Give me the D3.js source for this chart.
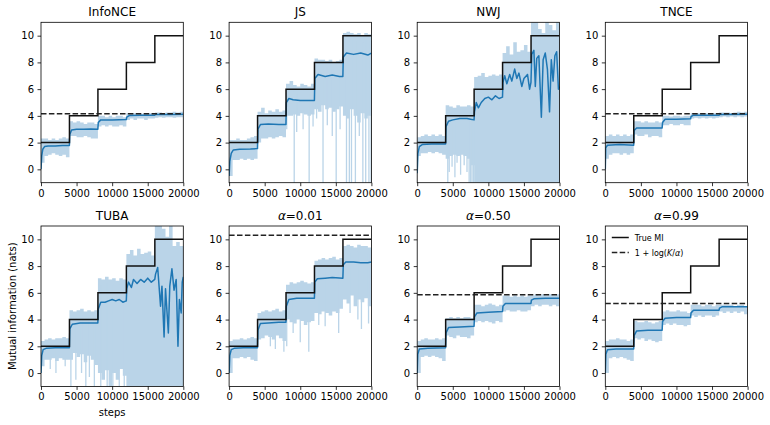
<!DOCTYPE html>
<html>
<head>
<meta charset="utf-8">
<script src="https://d3js.org/d3.v7.min.js"></script>
<style>
  body { margin: 0; background: #fff; }
  text { font-family: "DejaVu Sans", sans-serif; fill: #000; }
</style>
</head>
<body>
<svg id="chart" width="770" height="425"></svg>
<script>
// grid of the raw-estimate band (every 500 steps)
const steps = [0,500,1000,1500,2000,2500,3000,3500,4000,4500,5000,5500,6000,6500,7000,7500,
  8000,8500,9000,9500,10000,10500,11000,11500,12000,12500,13000,13500,14000,14500,15000,15500,
  16000,16500,17000,17500,18000,18500,19000,19500,20000];
const trueMiSteps = [0,4000,8000,12000,16000,20000];
const trueMi = [2,4,6,8,10,10];
const xTicks = [0,5000,10000,15000,20000];
const yTicks = [0,2,4,6,8,10];
const titles = ["InfoNCE","JS","NWJ","TNCE","TUBA","α=0.01","α=0.50","α=0.99"];
const bounds = [4.16,null,null,4.16,null,10.3,5.86,5.2];

const infonceHi = [2.3,2.3,2.2,2.3,2.2,2.3,2.4,2.3, 3.6,3.5,3.6,3.5,3.4,3.5,3.5,3.4, 4.0,4.0,3.9,4.0,3.9,4.0,4.0,3.9, 4.2,4.2,4.2,4.2,4.15,4.2,4.2,4.2, 4.25,4.25,4.2,4.25,4.25,4.3,4.25,4.3,4.3];
const infonceLo = [0.5,1.0,1.1,1.2,1.1,1.0,1.1,0.9, 2.5,2.5,2.4,2.4,2.5,2.4,2.3,2.3, 3.2,3.3,3.2,3.3,3.2,3.2,3.3,3.2, 3.7,3.8,3.7,3.8,3.8,3.7,3.8,3.8, 3.85,3.9,3.85,3.9,3.9,3.85,3.9,3.9,3.9];
const infonceSmooth = [[0,0],[100,1.0],[250,1.5],[500,1.7],[1000,1.75],[2000,1.75],[3000,1.78],[3990,1.78],[4050,2.6],[4300,2.95],[5000,3.0],[6000,3.0],[7000,3.02],[7990,3.0],[8050,3.5],[8400,3.7],[10000,3.7],[11990,3.72],[12050,3.9],[12400,4.02],[14000,4.05],[15990,4.05],[16100,4.1],[18000,4.1],[20000,4.12]];
const infonceSpikes = [];

const jsHi = [2.2,2.2,2.3,2.2,2.2,2.3,2.4,2.5, 4.3,4.6,4.2,4.4,4.3,4.5,4.3,4.4, 6.4,6.6,6.3,6.2,6.4,6.3,6.2,6.4, 8.3,8.2,8.2,8.1,8.2,8.0,8.1,8.2, 10.2,10.3,10.2,10.1,10.2,10.0,10.2,10.1,10.1];
const jsLo = [-0.5,0.7,0.7,0.8,0.7,0.8,0.7,0.8, 2.0,2.3,2.3,2.4,2.3,2.4,2.5,2.4, 4.0,4.0,4.1,4.0,4.2,4.1,4.0,4.1, 4.5,4.3,4.8,4.5,4.6,4.3,4.5,4.7, 4.0,3.8,4.5,4.0,3.5,4.2,3.8,4.0,4.0];
const jsSmooth = [[0,-0.5],[100,0.6],[300,1.2],[600,1.45],[1500,1.5],[3000,1.52],[3990,1.55],[4050,3.0],[4400,3.35],[5500,3.4],[7000,3.35],[7990,3.35],[8050,5.0],[8400,5.3],[9000,5.2],[10000,5.15],[11000,5.15],[11990,5.15],[12050,6.8],[12500,7.1],[13500,6.95],[14500,7.05],[15500,6.95],[15990,6.95],[16050,8.4],[16500,8.7],[17500,8.6],[18500,8.7],[19500,8.55],[20000,8.7]];
const jsSpikes = [[8100,3.0],[9150,-1],[9500,2.8],[10400,3.0],[11250,-1],[11800,3.2],[12300,3.8],[13200,-1],[13800,3.3],[14500,2.5],[15050,-1],[15600,3.0],[16500,-1],[16900,-1],[17200,-1],[17750,-1],[18300,2.5],[18800,-1],[19200,-1],[19650,-1],[19950,-1]];

const nwjHi = [2.4,2.5,2.6,2.5,2.6,2.5,2.6,2.5, 4.8,4.7,4.6,4.8,4.7,4.7,4.8,4.7, 6.9,7.0,7.2,6.9,7.0,7.1,7.0,7.1, 8.7,9.2,8.6,9.5,8.8,8.9,9.3,8.8, 11,11,10.5,10.2,11,10.8,10.4,11,9.0];
const nwjLo = [1.0,1.2,1.2,1.3,1.2,1.3,1.2,1.1, 0.8,1.0,1.1,1.0,1.1,1.0,0.8,0.3, -1,-1,-1,-1,-1,-1,-1,-1, -1,-1,-1,-1,-1,-1,-1,-1, -1,-1,-1,-1,-1,-1,-1,-1,-1];
const nwjSmooth = [[0,-0.3],[100,1.2],[300,1.7],[700,1.85],[2000,1.9],[3990,1.9],[4050,3.2],[4400,3.6],[5000,3.7],[6000,3.8],[7000,3.8],[7500,3.75],[7990,3.7],[8050,4.3],[8300,5.0],[8600,4.6],[9000,5.0],[9500,5.3],[10000,5.4],[10500,5.2],[11000,5.5],[11500,5.3],[11990,5.4],[12050,6.5],[12300,7.0],[12600,6.4],[13000,7.1],[13300,6.6],[13700,7.5],[14000,6.8],[14300,7.2],[14700,6.2],[15000,6.8],[15500,7.1],[15800,6.0],[15990,6.5],[16100,8.6],[16400,8.9],[16600,6.2],[16800,8.3],[17100,8.5],[17450,3.9],[17700,8.2],[18000,8.7],[18300,7.5],[18600,4.3],[18850,8.2],[19100,6.6],[19350,8.5],[19600,8.8],[19850,6.0],[20000,6.2]];
const nwjSpikes = [[4300,-1],[4500,-0.2],[4900,0.2],[5300,-0.6],[5600,0.5],[6100,-0.4],[6600,0.3],[7000,-0.2],[7300,-1],[7500,-1],[7700,-1],[7900,-1]];

const tnceHi = [2.5,2.6,2.5,2.6,2.5,2.6,2.5,2.6, 3.6,3.6,3.5,3.6,3.5,3.5,3.6,3.5, 4.0,4.0,3.95,4.0,4.0,3.95,4.0,4.0, 4.2,4.2,4.2,4.15,4.2,4.2,4.2,4.2, 4.25,4.25,4.25,4.2,4.25,4.3,4.25,4.3,4.3];
const tnceLo = [0.8,1.1,1.2,1.2,1.1,1.2,1.1,1.2, 2.6,2.5,2.5,2.6,2.4,2.5,2.5,2.4, 3.3,3.3,3.4,3.3,3.3,3.4,3.3,3.3, 3.8,3.85,3.8,3.85,3.8,3.85,3.8,3.85, 3.9,3.95,3.9,3.95,3.9,3.95,3.9,3.95,3.9];
const tnceSmooth = [[0,0],[60,1.6],[300,1.8],[2000,1.85],[3990,1.8],[4050,2.9],[4400,3.1],[6000,3.1],[7990,3.1],[8050,3.5],[8400,3.75],[10000,3.75],[11990,3.78],[12050,3.95],[12400,4.05],[16000,4.05],[16100,4.1],[20000,4.12]];
const tnceSpikes = [];

const tubaHi = [2.4,2.5,2.6,2.5,2.6,2.6,2.7,2.6, 4.7,4.6,4.7,4.8,4.6,4.7,4.6,4.7, 7.1,7.0,7.2,7.0,7.1,6.9,7.1,7.0, 8.9,9.2,8.8,9.3,8.9,9.0,9.1,8.8, 11,11,10.8,10.2,11,9.5,9.8,9.5,9.2];
const tubaLo = [0.5,1.0,1.0,1.1,0.9,1.1,1.0,1.0, 1.0,1.5,1.2,1.4,0.8,1.3,1.0,0.6, 0.0,-0.5,0.2,-1,0.0,-0.5,0.3,-0.2, -1,-1,-1,-1,-1,-1,-1,-1, -1,-1,-1,-1,-1,-1,-1,-1,-1];
const tubaSmooth = [[0,0],[100,1.3],[300,1.75],[700,1.85],[2000,1.9],[3990,1.9],[4050,3.3],[4400,3.65],[5500,3.75],[7000,3.75],[7990,3.75],[8050,4.8],[8400,5.3],[9000,5.3],[9500,5.4],[10000,5.5],[10500,5.4],[11000,5.5],[11500,5.3],[11990,5.4],[12050,6.3],[12300,6.8],[12700,6.4],[13000,7.0],[13500,6.7],[14000,7.0],[14500,6.8],[15000,7.1],[15500,6.8],[15990,7.0],[16100,7.4],[16400,7.9],[16800,5.0],[17000,6.5],[17300,2.7],[17500,6.3],[17900,3.0],[18100,6.5],[18400,7.8],[18700,6.2],[19000,7.0],[19250,2.0],[19450,5.5],[19700,4.5],[19850,6.8],[20000,7.2]];
const tubaSpikes = [[1300,0.3],[2100,0.0],[3400,0.5],[4200,-1],[4900,-0.5],[5700,0.0],[6300,-1],[6800,-0.3],[7500,-1],[8400,-1],[9300,-1],[10100,-1],[11000,-1],[11700,-1]];

const a001Hi = [2.4,2.5,2.5,2.6,2.5,2.6,2.7,2.6, 4.5,4.6,4.7,4.6,4.7,4.8,4.6,4.7, 6.6,6.8,6.7,6.8,6.9,6.8,6.7,6.8, 8.4,8.5,8.6,8.5,8.6,8.7,8.5,8.6, 9.5,9.6,9.5,9.4,9.6,9.5,9.5,9.4,9.5];
const a001Lo = [0.0,1.1,1.1,1.2,1.1,1.2,1.0,0.9, 2.5,2.6,2.8,2.7,2.5,2.8,2.6,2.4, 4.0,3.8,3.7,4.0,3.9,3.6,3.8,3.9, 4.5,4.4,4.6,4.5,4.3,4.6,4.5,4.8, 5.5,5.2,5.8,5.0,5.5,5.3,5.6,5.0,5.5];
const a001Smooth = [[0,0],[100,1.3],[300,1.75],[700,1.85],[2000,1.9],[3990,1.9],[4050,3.2],[4400,3.7],[5500,3.75],[7000,3.8],[7990,3.8],[8050,5.0],[8400,5.5],[9500,5.6],[11000,5.6],[11990,5.6],[12050,6.8],[12400,7.05],[13500,7.1],[14500,7.15],[15990,7.1],[16050,8.1],[16400,8.3],[17500,8.3],[18500,8.25],[19500,8.25],[20000,8.3]];
const a001Spikes = [[5800,2.0],[6500,1.8],[7700,1.6],[8100,2.0],[9000,3.0],[10000,2.3],[11200,1.6],[12600,3.6],[13500,3.5],[15400,3.0],[17000,4.5],[18100,4.0],[18600,3.3],[19600,3.7]];

const a050Hi = [2.4,2.5,2.6,2.5,2.5,2.6,2.5,2.6, 4.1,4.2,4.1,4.2,4.1,4.2,4.2,4.1, 5.1,5.1,5.0,5.1,5.2,5.1,5.0,5.1, 5.8,5.8,5.7,5.8,5.7,5.8,5.7,5.8, 5.8,5.9,5.8,5.9,5.8,5.9,5.8,5.9,5.8];
const a050Lo = [0.0,1.2,1.3,1.2,1.3,1.2,1.1,0.9, 2.8,2.7,2.6,2.8,2.7,2.7,2.6,2.8, 3.8,3.9,3.8,3.9,3.8,3.7,3.9,3.8, 4.6,4.7,4.6,4.6,4.7,4.6,4.6,4.7, 5.0,5.1,5.0,5.1,5.1,5.0,5.1,5.0,5.1];
const a050Smooth = [[0,0],[80,1.4],[300,1.8],[1500,1.85],[3990,1.9],[4050,3.0],[4400,3.4],[6000,3.45],[7990,3.5],[8050,4.2],[8400,4.5],[10000,4.55],[11990,4.6],[12050,5.0],[12400,5.2],[14000,5.2],[15990,5.2],[16050,5.45],[16400,5.55],[18000,5.6],[20000,5.6]];
const a050Spikes = [];

const a099Hi = [2.4,2.5,2.5,2.6,2.5,2.5,2.4,2.5, 3.9,3.8,3.8,3.9,3.8,3.7,3.8,3.9, 4.6,4.7,4.6,4.6,4.7,4.6,4.6,4.5, 5.1,5.1,5.1,5.0,5.1,5.1,5.0,5.1, 5.1,5.1,5.1,5.1,5.0,5.1,5.1,5.0,5.0];
const a099Lo = [0.0,1.1,1.2,1.1,1.2,1.1,1.0,0.9, 2.6,2.5,2.6,2.4,2.5,2.4,2.3,2.4, 3.6,3.7,3.6,3.7,3.6,3.6,3.5,3.6, 4.3,4.2,4.3,4.2,4.3,4.3,4.2,4.3, 4.6,4.5,4.6,4.5,4.6,4.5,4.6,4.4,4.4];
const a099Smooth = [[0,0],[80,1.4],[300,1.75],[1500,1.8],[3990,1.8],[4050,2.8],[4400,3.15],[6000,3.2],[7990,3.2],[8050,3.85],[8400,4.1],[10000,4.15],[11990,4.15],[12050,4.5],[12400,4.7],[14000,4.7],[15990,4.7],[16050,4.85],[16400,4.95],[18000,4.95],[20000,4.95]];
const a099Spikes = [];

const panels = [
  {hi: infonceHi, lo: infonceLo, smooth: infonceSmooth, spikes: infonceSpikes},
  {hi: jsHi, lo: jsLo, smooth: jsSmooth, spikes: jsSpikes},
  {hi: nwjHi, lo: nwjLo, smooth: nwjSmooth, spikes: nwjSpikes},
  {hi: tnceHi, lo: tnceLo, smooth: tnceSmooth, spikes: tnceSpikes},
  {hi: tubaHi, lo: tubaLo, smooth: tubaSmooth, spikes: tubaSpikes},
  {hi: a001Hi, lo: a001Lo, smooth: a001Smooth, spikes: a001Spikes},
  {hi: a050Hi, lo: a050Lo, smooth: a050Smooth, spikes: a050Spikes},
  {hi: a099Hi, lo: a099Lo, smooth: a099Smooth, spikes: a099Spikes}
];

const svg = d3.select("#chart");
const w = 142.3, h = 160.4;
const left0 = 41, top0 = 22.3, colStep = 188.1, rowStep = 203.7;
const light = "#bad4e8", blue = "#1f77b4";

const x = d3.scaleLinear().domain([0, 20000]).range([0, w]);
const y = d3.scaleLinear().domain([-1, 11]).range([h, 0]);

panels.forEach((p, i) => {
  const col = i % 4, row = Math.floor(i / 4);
  const g = svg.append("g")
    .attr("transform", "translate(" + (left0 + col * colStep) + "," + (top0 + row * rowStep) + ")");

  svg.append("clipPath").attr("id", "clip" + i)
    .append("rect").attr("width", w).attr("height", h);
  const plot = g.append("g").attr("clip-path", "url(#clip" + i + ")");

  // raw estimate band
  const band = d3.area()
    .x((d, k) => x(steps[k]))
    .y0((d, k) => y(p.lo[k]))
    .y1((d, k) => y(p.hi[k]))
    .curve(d3.curveStepAfter);
  plot.append("path").datum(p.hi).attr("d", band).attr("fill", light);

  // downward excursions of the raw estimate
  plot.selectAll("line.spike").data(p.spikes).enter().append("line")
    .attr("class", "spike")
    .attr("x1", d => x(d[0])).attr("x2", d => x(d[0]))
    .attr("y1", d => y(p.hi[Math.floor(d[0] / 500)] - 0.5))
    .attr("y2", d => y(d[1]))
    .attr("stroke", light).attr("stroke-width", 1.3);

  // smoothed estimate
  plot.append("path").datum(p.smooth)
    .attr("d", d3.line().x(d => x(d[0])).y(d => y(d[1])))
    .attr("fill", "none").attr("stroke", blue).attr("stroke-width", 1.5)
    .attr("stroke-linejoin", "round");

  // true MI
  plot.append("path").datum(trueMiSteps)
    .attr("d", d3.line().x(d => x(d)).y((d, k) => y(trueMi[k])).curve(d3.curveStepAfter))
    .attr("fill", "none").attr("stroke", "#111").attr("stroke-width", 1.5);

  if (bounds[i] !== null) {
    plot.append("path").datum([0, 20000])
      .attr("d", d3.line().x(d => x(d)).y(() => y(bounds[i])))
      .attr("fill", "none").attr("stroke", "#222").attr("stroke-width", 1.5)
      .attr("stroke-dasharray", "5.5,2.4");
  }

  // axes
  const xa = g.append("g").attr("transform", "translate(0," + h + ")")
    .call(d3.axisBottom(x).tickValues(xTicks).tickFormat(d3.format("d")).tickSize(3.5).tickPadding(3.5));
  const ya = g.append("g")
    .call(d3.axisLeft(y).tickValues(yTicks).tickSize(3.5).tickPadding(3.5));
  [xa, ya].forEach(a => {
    a.select(".domain").remove();
    a.selectAll(".tick line").attr("stroke", "#000").attr("stroke-width", 0.8);
    a.selectAll(".tick text").style("font-size", "10px").style("font-family", "DejaVu Sans").attr("fill", "#000");
  });
  g.append("rect").attr("width", w).attr("height", h)
    .attr("fill", "none").attr("stroke", "#000").attr("stroke-width", 0.8);

  // title
  const t = g.append("text").attr("x", w / 2).attr("y", -6)
    .attr("text-anchor", "middle").style("font-size", "12px");
  if (titles[i].startsWith("α")) {
    t.append("tspan").style("font-style", "italic").text("α");
    t.append("tspan").text(titles[i].slice(1));
  } else {
    t.text(titles[i]);
  }

  if (i === 4) {
    g.append("text").attr("transform", "translate(-25.5," + (h / 2) + ") rotate(-90)")
      .attr("text-anchor", "middle").style("font-size", "10px")
      .text("Mutual information (nats)");
    g.append("text").attr("x", w / 2).attr("y", h + 30)
      .attr("text-anchor", "middle").style("font-size", "10px").text("steps");
  }

  if (i === 7) {
    const lg = g.append("g").attr("transform", "translate(6.5,11.5)");
    lg.append("line").attr("x1", 0).attr("x2", 17).attr("y1", 0).attr("y2", 0)
      .attr("stroke", "#111").attr("stroke-width", 1.5);
    lg.append("text").attr("x", 23).attr("y", 3).style("font-size", "8px").text("True MI");
    lg.append("line").attr("x1", 0).attr("x2", 17).attr("y1", 15).attr("y2", 15)
      .attr("stroke", "#222").attr("stroke-width", 1.5).attr("stroke-dasharray", "5.5,2.4");
    const lt = lg.append("text").attr("x", 23).attr("y", 18).style("font-size", "8px");
    lt.append("tspan").text("1 + log(");
    lt.append("tspan").style("font-style", "italic").text("K");
    lt.append("tspan").text("/");
    lt.append("tspan").style("font-style", "italic").text("α");
    lt.append("tspan").text(")");
  }
});
</script>
</body>
</html>
